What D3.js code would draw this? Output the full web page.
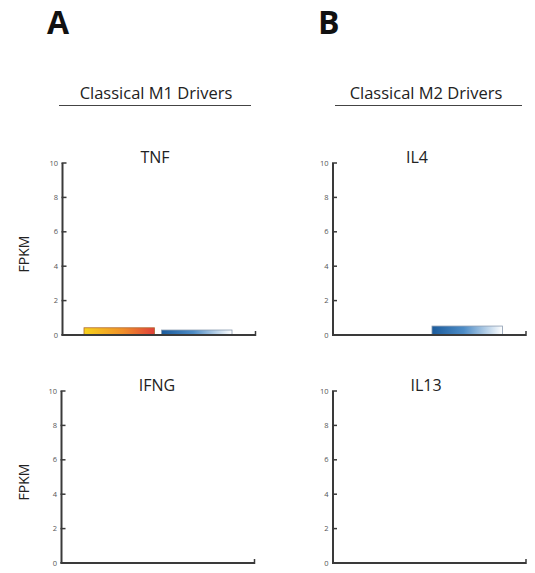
<!DOCTYPE html>
<html><head><meta charset="utf-8">
<script src="https://cdn.jsdelivr.net/npm/d3@7"></script>
<style>body{margin:0;background:#fff}svg{display:block}</style>
</head><body>
<script>
const genes = ["TNF", "IL4", "IFNG", "IL13"];
const groups = ["M1", "M2"];
const m1Values = [0.42, 0, 0, 0];
const m2Values = [0.29, 0.52, 0, 0];
const yTicks = [0, 2, 4, 6, 8, 10];
const headers = ["Classical M1 Drivers", "Classical M2 Drivers"];
const panelLetters = ["A", "B"];

const W = 535, H = 573;
const svg = d3.select("body").append("svg").attr("width", W).attr("height", H);
const font = "'Open Sans', 'Noto Sans', sans-serif";

const defs = svg.append("defs");
const g1 = defs.append("linearGradient").attr("id", "gradM1");
g1.append("stop").attr("offset", "0%").attr("stop-color", "#f7d21c");
g1.append("stop").attr("offset", "55%").attr("stop-color", "#f0902a");
g1.append("stop").attr("offset", "100%").attr("stop-color", "#e0403a");
const g2 = defs.append("linearGradient").attr("id", "gradM2");
g2.append("stop").attr("offset", "0%").attr("stop-color", "#1b5b9c");
g2.append("stop").attr("offset", "45%").attr("stop-color", "#4d8cc6");
g2.append("stop").attr("offset", "100%").attr("stop-color", "#ffffff");

// headers
panelLetters.forEach((L, i) => {
  svg.append("text").attr("x", [47, 318][i]).attr("y", 34)
    .attr("font-family", font).attr("font-weight", "bold").attr("font-size", 32)
    .attr("fill", "#111").text(L);
  svg.append("text").attr("x", [156, 426][i]).attr("y", 99)
    .attr("text-anchor", "middle").attr("font-family", font).attr("font-size", 16.5)
    .attr("fill", "#222").text(headers[i]);
  svg.append("line").attr("x1", [59, 335][i]).attr("x2", [251, 522][i])
    .attr("y1", 105.5).attr("y2", 105.5).attr("stroke", "#444").attr("stroke-width", 1.2);
});

const panels = [
  {x0: 62.5, yTop: 163, yBot: 335},
  {x0: 333, yTop: 163, yBot: 335},
  {x0: 61.5, yTop: 391, yBot: 563},
  {x0: 333, yTop: 391, yBot: 563}
];
const axisLen = 193;

genes.forEach((gene, i) => {
  const p = panels[i];
  const g = svg.append("g");
  const y = d3.scaleLinear().domain([0, 10]).range([p.yBot, p.yTop]);
  const x = d3.scaleBand().domain(groups).range([p.x0 + 21.5, p.x0 + 169.5]).paddingInner(0.09);

  // bars
  const vals = [m1Values[i], m2Values[i]];
  groups.forEach((grp, k) => {
    if (vals[k] <= 0) return;
    g.append("rect").attr("x", x(grp)).attr("width", x.bandwidth())
      .attr("y", y(vals[k])).attr("height", y(0) - y(vals[k]))
      .attr("fill", k === 0 ? "url(#gradM1)" : "url(#gradM2)")
      .attr("stroke", k === 0 ? "#b06a30" : "#8a9bb0").attr("stroke-width", 0.8);
  });

  // y axis
  g.append("line").attr("x1", p.x0).attr("x2", p.x0).attr("y1", y(10)).attr("y2", y(0))
    .attr("stroke", "#3a3a3a").attr("stroke-width", 2);
  yTicks.forEach(t => {
    g.append("line").attr("x1", p.x0 - 1).attr("x2", p.x0 + 4).attr("y1", y(t)).attr("y2", y(t))
      .attr("stroke", "#3a3a3a").attr("stroke-width", 1.5);
    g.append("text").attr("x", p.x0 - 4.5).attr("y", y(t)).attr("dy", "0.35em")
      .attr("text-anchor", "end").attr("font-family", font).attr("font-size", 7.5)
      .attr("fill", "#555").text(t);
  });
  // x axis
  g.append("line").attr("x1", p.x0 - 1).attr("x2", p.x0 + axisLen).attr("y1", y(0)).attr("y2", y(0))
    .attr("stroke", "#3a3a3a").attr("stroke-width", 2);
  g.append("line").attr("x1", p.x0 + axisLen).attr("x2", p.x0 + axisLen).attr("y1", y(0) + 1).attr("y2", y(0) - 4)
    .attr("stroke", "#3a3a3a").attr("stroke-width", 1.5);

  // title
  g.append("text").attr("x", [155, 417, 157, 426][i]).attr("y", p.yTop - 0.5)
    .attr("text-anchor", "middle").attr("font-family", font).attr("font-size", 16)
    .attr("fill", "#222").text(gene);

  if (i % 2 === 0) {
    const cy = (p.yTop + p.yBot) / 2 + 5;
    svg.append("text").attr("transform", `translate(29,${cy}) rotate(-90)`)
      .attr("text-anchor", "middle").attr("font-family", font).attr("font-size", 14)
      .attr("fill", "#222").text("FPKM");
  }
});
</script>
</body></html>
